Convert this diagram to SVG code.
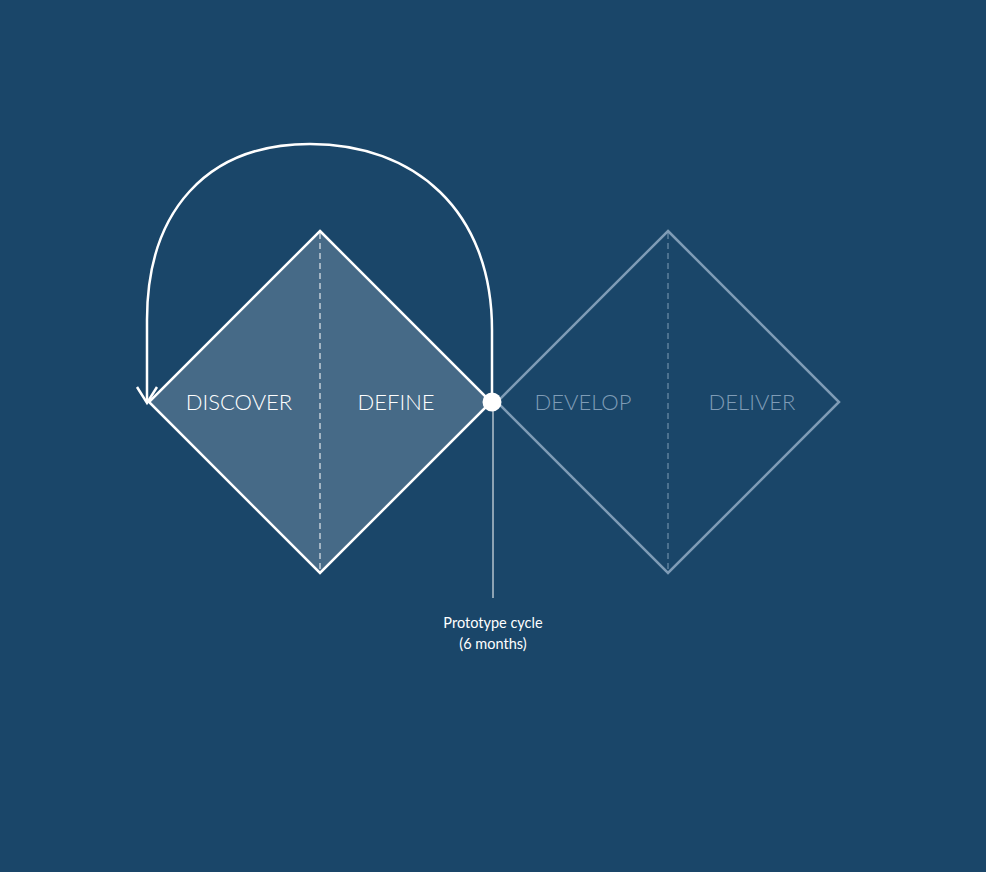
<svg xmlns="http://www.w3.org/2000/svg" width="986" height="872" viewBox="0 0 986 872">
<style>
.lbl{font-family:Lato,"Open Sans",sans-serif;font-size:22px;font-weight:300;text-anchor:middle}
.on{fill:#ffffff}
.off{fill:#7f9cb6}
.small{font-family:Lato,"Open Sans",sans-serif;font-size:14.5px;font-weight:400;fill:#ffffff;text-anchor:middle}
</style>
<rect width="986" height="872" fill="#1a4669"/>
<g id="diamond-1">
<polygon points="320,231 491,402 320,573 149,402" fill="#466a87" stroke="#ffffff" stroke-width="2.5" stroke-linejoin="miter"/>
<line x1="320" y1="233" x2="320" y2="571" stroke="#ffffff" stroke-width="1" stroke-dasharray="6,4"/>
<text class="lbl on" x="239" y="410">DISCOVER</text>
<text class="lbl on" x="396" y="410">DEFINE</text>
</g>
<g id="diamond-2">
<polygon points="668,231 839,402 668,573 497,402" fill="none" stroke="#7f9cb6" stroke-width="2.5"/>
<line x1="668" y1="233" x2="668" y2="571" stroke="#7f9cb6" stroke-width="1" stroke-dasharray="6,4"/>
<text class="lbl off" x="583" y="410">DEVELOP</text>
<text class="lbl off" x="752" y="410">DELIVER</text>
</g>
<g id="connectors">
<path d="M492,402 V330 C492,210 414,144 310,144 C206,144 147,212 147,320 V402" fill="none" stroke="#ffffff" stroke-width="2.5"/>
<polyline points="137,387 147,403 157,387" fill="none" stroke="#ffffff" stroke-width="2.5"/>
<line x1="493" y1="402" x2="493" y2="598" stroke="#ffffff" stroke-width="1"/>
</g>
<g id="milestone">
<circle cx="492" cy="402" r="9.5" fill="#ffffff"/>
<text class="small" x="493" y="628">Prototype cycle</text>
<text class="small" x="493" y="649">(6 months)</text>
</g>
</svg>
